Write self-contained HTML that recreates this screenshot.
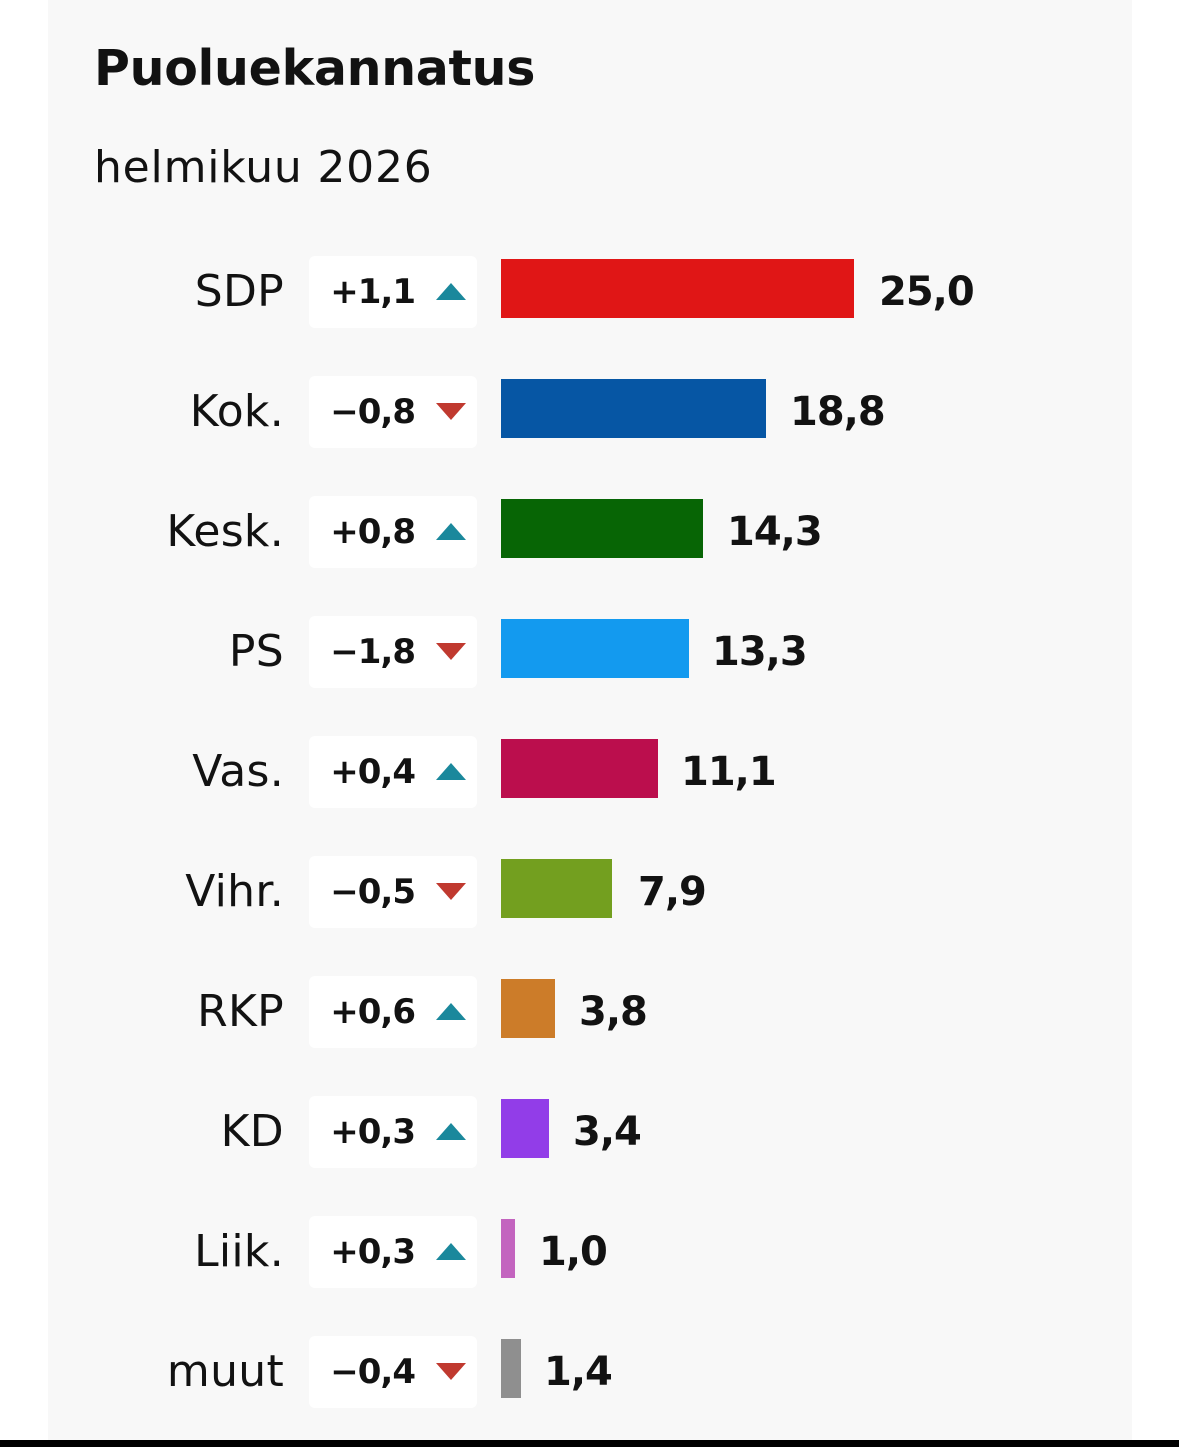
<!DOCTYPE html>
<html><head><meta charset="utf-8"><style>
body{margin:0;width:1179px;height:1447px;background:#fff;position:relative;overflow:hidden;font-family:"DejaVu Sans","Liberation Sans",sans-serif;color:#121212}
.card{position:absolute;left:48px;top:0;width:1084px;height:1440px;background:#f8f8f8}
.bar{position:absolute;left:0;top:1440px;width:1179px;height:7px;background:#000}
.t{position:absolute;left:94px;top:40px;font-size:49px;font-weight:bold;letter-spacing:-0.3px}
.s{position:absolute;left:94px;top:142px;font-size:44px;letter-spacing:0.8px}
.row{position:absolute;left:0;width:1179px;height:72px}
.lab{position:absolute;right:895px;top:8px;font-size:44px;line-height:56px;text-align:right;white-space:nowrap;letter-spacing:0.3px}
.box{position:absolute;left:309px;top:0;width:168px;height:72px;background:#fff;border-radius:6px}
.ch{position:absolute;right:62px;top:14px;font-size:34px;font-weight:bold;line-height:44px;letter-spacing:-1px}
.tri{position:absolute;left:127px;top:27px;width:0;height:0;border-left:15px solid transparent;border-right:15px solid transparent}
.up{border-bottom:17px solid #1a889c}
.dn{border-top:17px solid #c0392f}
.b{position:absolute;left:501px;top:3px;height:59px}
.v{position:absolute;top:8px;font-size:40px;font-weight:bold;line-height:56px;letter-spacing:-1px}
</style></head><body>
<div class="card"></div>
<div class="t">Puoluekannatus</div>
<div class="s">helmikuu 2026</div>

<div class="row" style="top:256px"><div class="lab">SDP</div><div class="box"><div class="ch">+1,1</div><div class="tri up"></div></div><div class="b" style="width:353px;background:#e01616"></div><div class="v" style="left:879px">25,0</div></div>
<div class="row" style="top:376px"><div class="lab">Kok.</div><div class="box"><div class="ch">−0,8</div><div class="tri dn"></div></div><div class="b" style="width:265px;background:#0656a4"></div><div class="v" style="left:790px">18,8</div></div>
<div class="row" style="top:496px"><div class="lab">Kesk.</div><div class="box"><div class="ch">+0,8</div><div class="tri up"></div></div><div class="b" style="width:202px;background:#076505"></div><div class="v" style="left:727px">14,3</div></div>
<div class="row" style="top:616px"><div class="lab">PS</div><div class="box"><div class="ch">−1,8</div><div class="tri dn"></div></div><div class="b" style="width:188px;background:#139aef"></div><div class="v" style="left:712px">13,3</div></div>
<div class="row" style="top:736px"><div class="lab">Vas.</div><div class="box"><div class="ch">+0,4</div><div class="tri up"></div></div><div class="b" style="width:157px;background:#bb0e4d"></div><div class="v" style="left:681px">11,1</div></div>
<div class="row" style="top:856px"><div class="lab">Vihr.</div><div class="box"><div class="ch">−0,5</div><div class="tri dn"></div></div><div class="b" style="width:111px;background:#739f1f"></div><div class="v" style="left:638px">7,9</div></div>
<div class="row" style="top:976px"><div class="lab">RKP</div><div class="box"><div class="ch">+0,6</div><div class="tri up"></div></div><div class="b" style="width:54px;background:#cc7c29"></div><div class="v" style="left:579px">3,8</div></div>
<div class="row" style="top:1096px"><div class="lab">KD</div><div class="box"><div class="ch">+0,3</div><div class="tri up"></div></div><div class="b" style="width:48px;background:#923de8"></div><div class="v" style="left:573px">3,4</div></div>
<div class="row" style="top:1216px"><div class="lab">Liik.</div><div class="box"><div class="ch">+0,3</div><div class="tri up"></div></div><div class="b" style="width:14px;background:#c364bf"></div><div class="v" style="left:539px">1,0</div></div>
<div class="row" style="top:1336px"><div class="lab">muut</div><div class="box"><div class="ch">−0,4</div><div class="tri dn"></div></div><div class="b" style="width:20px;background:#8f8f8f"></div><div class="v" style="left:544px">1,4</div></div>

<div class="bar"></div>
</body></html>
